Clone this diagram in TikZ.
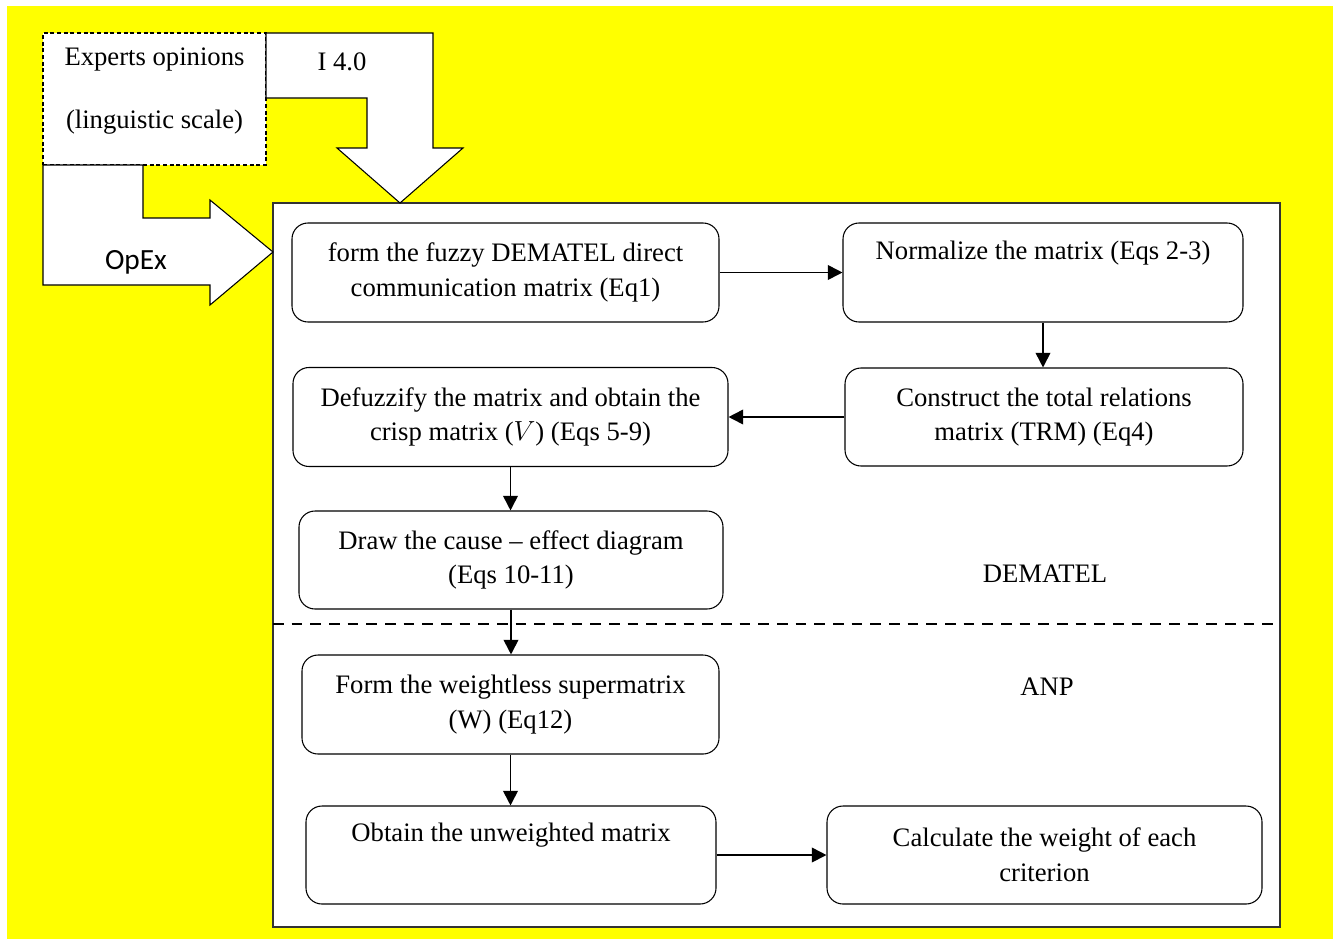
\documentclass[tikz,border=0pt]{standalone}
\usepackage{fontspec}
\setmainfont{Liberation Serif}
\newfontfamily\opexfont{Carlito}
\usetikzlibrary{arrows.meta}
\definecolor{bgyellow}{RGB}{255,255,0}

\begin{document}
\begin{tikzpicture}[x=0.75pt,y=0.75pt,yscale=-1,xscale=1,
    stepbox/.style={draw, fill=white, line width=0.8pt, rounded corners=12pt, align=center, inner sep=0pt, font=\fontsize{20}{26}\selectfont},
    flow/.style={-{Triangle[length=11pt,width=11pt]}, line width=1.3pt},
    bigarrow/.style={draw, fill=white, line width=0.8pt},
    plain/.style={font=\fontsize{20}{26}\selectfont, inner sep=0.75pt}]
        \useasboundingbox (0,0) rectangle (1333,939);

        %Background
        \fill [bgyellow] (7,6) rectangle (1333,939);

        %Frame of the two methods
        \draw [fill=white, draw=black!80, line width=1.2pt] (273,203) rectangle (1280,927);
        %Dashed divider
        \draw [dash pattern=on 8pt off 6pt, line width=1pt] (273,624) -- (1280,624);

        %Experts box
        \node [draw, fill=white, dash pattern=on 3pt off 2pt, line width=0.8pt, minimum width=167.25pt, minimum height=99pt, align=center, inner sep=0pt, font=\fontsize{20}{26}\selectfont] (experts) at (154.5,99) {Experts opinions\\[21pt](linguistic scale)\\[-10pt]\mbox{}};

        %Big arrow I 4.0
        \draw [bigarrow] (266,33) -- (433,33) -- (433,148) -- (463,148) -- (400,203) -- (337,148) -- (367,148) -- (367,98) -- (266,98) -- cycle ;
        %Big arrow OpEx
        \draw [bigarrow] (43,165) -- (143,165) -- (143,218) -- (210,218) -- (210,200) -- (273,252) -- (210,305) -- (210,285) -- (43,285) -- cycle ;

        % Text Node
        \node [plain] (ifour) at (342,62) {I 4.0};
        % Text Node
        \node [font=\opexfont\fontsize{22}{26}\selectfont] (opex) at (136,262) {OpEx};

        %DEMATEL steps
        \node [stepbox, minimum width=320.25pt, minimum height=74.25pt] (fuzzy) at (505.5,272.5) {form the fuzzy DEMATEL direct\\communication matrix (Eq1)};
        \node [stepbox, minimum width=300pt, minimum height=74.25pt] (norm) at (1043,272.5) {Normalize the matrix (Eqs 2-3)\\\strut};
        \node [stepbox, minimum width=298.5pt, minimum height=73.5pt] (trm) at (1044,417) {Construct the total relations\\matrix (TRM) (Eq4)};
        \node [stepbox, minimum width=326.25pt, minimum height=74.25pt] (defuzz) at (510.5,417) {Defuzzify the matrix and obtain the\\crisp matrix ($V$) (Eqs 5-9)};
        \node [stepbox, minimum width=318pt, minimum height=73.5pt] (cause) at (511,560) {Draw the cause -- effect diagram\\(Eqs 10-11)};

        %ANP steps
        \node [stepbox, minimum width=312.75pt, minimum height=74.25pt] (superm) at (510.5,704.5) {Form the weightless supermatrix\\(W) (Eq12)};
        \node [stepbox, minimum width=307.5pt, minimum height=73.5pt] (unweight) at (511,855) {Obtain the unweighted matrix\\\strut};
        \node [stepbox, minimum width=326.25pt, minimum height=73.5pt] (weight) at (1044.5,855) {Calculate the weight of each\\criterion};

        % Text Node
        \node [plain] (dematel) at (1045,574) {DEMATEL};
        % Text Node
        \node [plain] (anp) at (1047,687) {ANP};

        %Connectors
        \draw [flow] (fuzzy.east) -- (norm.west);
        \draw [flow] (norm.south) -- (norm.south |- trm.north);
        \draw [flow] (trm.west) -- (defuzz.east);
        \draw [flow] (defuzz.south) -- (defuzz.south |- cause.north);
        \draw [flow] (cause.south) -- (cause.south |- superm.north);
        \draw [flow] (superm.south) -- (superm.south |- unweight.north);
        \draw [flow] (unweight.east) -- (weight.west);

    \end{tikzpicture}
\end{document}
